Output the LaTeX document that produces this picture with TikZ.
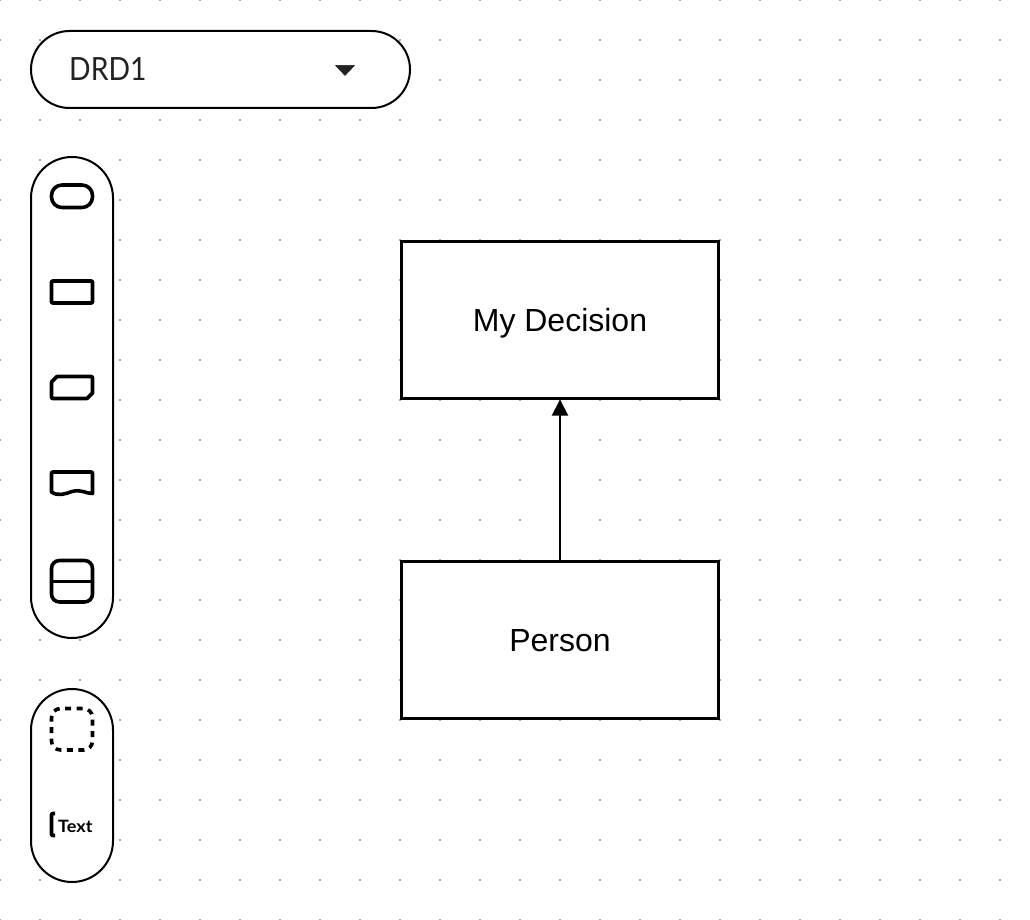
\documentclass[tikz,border=0pt]{standalone}
\usepackage{fontspec}
\setmainfont{Liberation Sans}
\newfontfamily\uifont{Lato}
\usetikzlibrary{arrows.meta}
\definecolor{dotgrey}{HTML}{AAAAAA}
\definecolor{uitext}{HTML}{222222}
\tikzset{
  griddot/.style={fill=dotgrey,draw=none},
  panel/.style={draw=black,line width=2pt,fill=white},
  icon/.style={draw=black,line width=3.6pt,line join=round},
  drdbox/.style={draw=black,line width=3pt,fill=white,minimum width=317pt,minimum height=157pt,inner sep=0pt,outer sep=0pt,text height=30pt,text depth=7pt,font=\fontsize{32}{38}\selectfont},
  conn/.style={draw=black,line width=2pt,-{Triangle[length=16pt,width=16pt]},shorten >=1pt},
}
\begin{document}
\begin{tikzpicture}[x=1pt,y=-1pt]
\useasboundingbox (0,0) rectangle (1030,920);
\clip (0,0) rectangle (1030,920);
\fill[white] (0,0) rectangle (1030,920);
% dotted canvas
\foreach \i in {0,...,25}{
  \foreach \j in {0,...,23}{
    \fill[griddot] ({\i*40-1},{\j*40-1}) rectangle ({\i*40+1},{\j*40+1});
  }
}
% dropdown
\draw[panel,rounded corners=38.5pt] (31,31) rectangle (410,108);
\node[anchor=base west,inner sep=0pt,text=uitext,font=\uifont\fontsize{32}{38}\selectfont] (drdlabel) at (69,81) {\scalebox{.885}[1]{DRD1}};
\fill[uitext,draw=uitext,line width=.5pt,line join=round] (335.5,65.5) -- (354.5,65.5) -- (345,75.5) -- cycle;
% palettes
\draw[panel,rounded corners=41pt] (31,157) rectangle (113,638);
\draw[panel,rounded corners=41pt] (31,689) rectangle (113,882);
% palette icons
\draw[icon,rounded corners=10.5pt] (51.5,185) rectangle (92.5,207.5);
\draw[icon,rounded corners=1pt] (51.5,281) rectangle (92.5,303);
\draw[icon] (57,376.5) -- (91.5,376.5) -- (92.5,377.5) -- (92.5,393) -- (87,398.5) -- (52.5,398.5) -- (51.5,397.5) -- (51.5,382) -- cycle;
\draw[icon] (52.5,472) -- (91.5,472) -- (92.5,473) -- (92.5,493.5)
  .. controls (85,493.5) and (82,489) .. (72,491.5)
  .. controls (65,494) and (58,496.5) .. (51.5,492) -- (51.5,473) -- cycle;
\draw[icon,rounded corners=8pt] (51.5,560.5) rectangle (92.5,602);
\draw[icon,line width=3pt] (51.5,581) -- (92.5,581);
\draw[icon,dash pattern=on 6pt off 5.5pt,dash phase=2pt,rounded corners=9pt] (51.5,708.5) rectangle (92.5,750);
\draw[icon,rounded corners=1pt] (55,813.5) -- (51.5,813.5) -- (51.5,835.5) -- (55,835.5);
\node[anchor=base west,inner sep=0pt,text=black,font=\uifont\bfseries\fontsize{17}{20}\selectfont] (textlabel) at (58,832) {\scalebox{1.06}[1]{Text}};
% diagram
\node[drdbox] (decision) at (560,320) {My Decision};
\node[drdbox] (person) at (560,640) {Person};
\draw[conn] (person.north) -- (decision.south);
\end{tikzpicture}
\end{document}
